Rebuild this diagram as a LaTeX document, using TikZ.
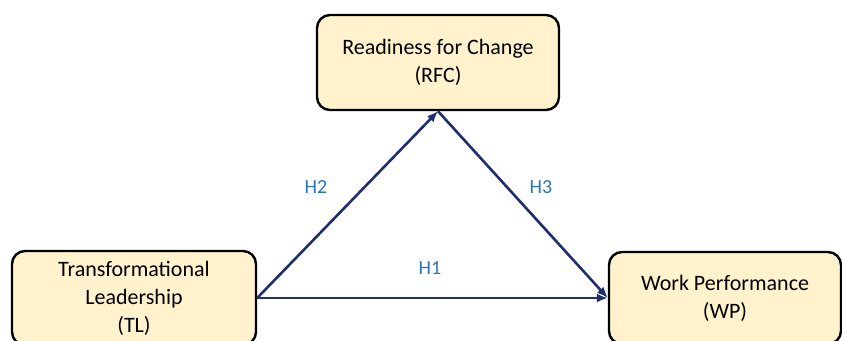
\documentclass[tikz,border=0pt]{standalone}
\usepackage{fontspec}
\setmainfont{Carlito}
\usetikzlibrary{arrows.meta}

\definecolor{boxfill}{HTML}{FFF2CC}
\definecolor{arrowblue}{HTML}{1F2F6E}
\definecolor{labelblue}{HTML}{2E75B6}

\tikzset{
    varbox/.style={draw=black, line width=2.4pt, fill=boxfill, rounded corners=13pt,
        align=center, font=\fontsize{22}{28}\selectfont, inner sep=0pt},
    path/.style={-{Latex[length=11pt,width=9pt]}, line width=2.6pt, draw=arrowblue},
    hyp/.style={text=labelblue, font=\fontsize{20}{24}\selectfont}
}

\begin{document}
\begin{tikzpicture}[x=1pt, y=-1pt]
        \useasboundingbox (0,0) rectangle (842,340);
        \clip (0,0) rectangle (842,340);
        \node[varbox, minimum width=242pt, minimum height=95pt] (rfc) at (438,62.5) {Readiness for Change\\(RFC)};
        \node[varbox, minimum width=244pt, minimum height=94pt] (tl) at (134,298) {Transformational\\Leadership\\(TL)};
        \node[varbox, minimum width=232pt, minimum height=92pt] (wp) at (725,298) {Work Performance\\(WP)};
        \draw[path] (tl.east) -- (rfc.south);
        \draw[path] (rfc.south) -- (wp.west);
        \draw[path] (tl.east) -- (wp.west);
        \node[hyp] (h2) at (316,187) {H2};
        \node[hyp] (h3) at (541,187) {H3};
        \node[hyp] (h1) at (430,268) {H1};
    \end{tikzpicture}
\end{document}
